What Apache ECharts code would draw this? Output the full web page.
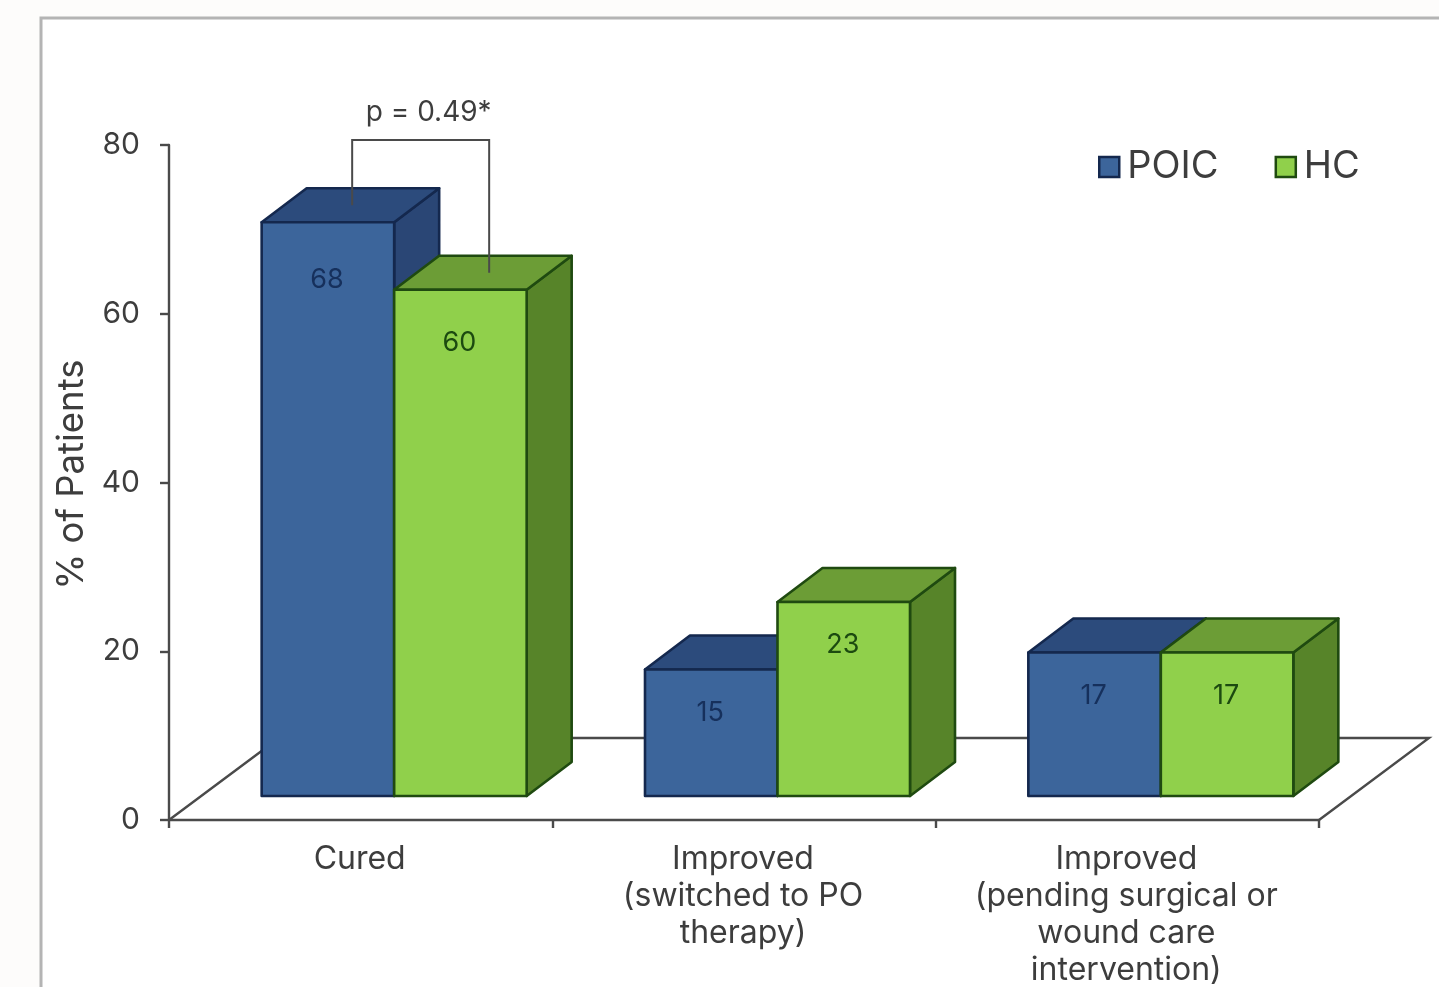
<!DOCTYPE html>
<html>
<head>
<meta charset="utf-8">
<style>html,body{margin:0;padding:0;background:#fdfcfb;overflow:hidden}#chart{width:1439px;height:987px}</style>
<script src="https://cdn.jsdelivr.net/npm/echarts@6/dist/echarts.min.js"></script>
</head>
<body>
<div id="chart"></div>
<script>
// Treatment outcome by patient group, drawn as pseudo-3D clustered columns.
const categories = ['Cured', 'Improved\n(switched to PO\ntherapy)', 'Improved\n(pending surgical or\nwound care\nintervention)'];
const poicValues = [68, 15, 17];
const hcValues = [60, 23, 17];
const yTicks = { min: 0, max: 80, step: 20 };
const pValueText = 'p = 0.49*';
const bracketTopValue = 80.6;

const FONT = 'Inter, sans-serif';
const TEXT = '#3d3d3d';
const BAR_W = 132.5, DEPTH_X = 45, DEPTH_Y = 34;     // column face width and oblique depth
const BASE_LIFT = 24, CLUSTER_SHIFT = 33.5;          // columns stand inside the floor plane
const FLOOR_X = 110, FLOOR_Y = 82;                   // oblique depth of the floor

const styles = {
  POIC: { front: '#3c659b', top: '#2c4b7c', side: '#2a4675', edge: '#14284e', label: '#16305c' },
  HC:   { front: '#90d04b', top: '#6c9d36', side: '#578429', edge: '#1f4a10', label: '#1c4a10' }
};

// Distance of a value label below the top edge of its column face.
function labelDrop(val) {
  if (val > 60) return 58;
  return val === 60 ? 53 : 43;
}

// One oblique box for a column; side 0 sits left of the cluster centre, side 1 right.
function columnRenderer(name, side) {
  const s = styles[name];
  return function (params, api) {
    const cat = api.value(0), val = api.value(1);
    const base = api.coord([cat, 0]);
    const head = api.coord([cat, val]);
    const xL = base[0] + CLUSTER_SHIFT + (side - 1) * BAR_W;
    const xR = xL + BAR_W;
    const yB = base[1] - BASE_LIFT;
    const yT = head[1] - BASE_LIFT;
    const lineStyle = { stroke: s.edge, lineWidth: 2.6, lineJoin: 'round' };
    const poly = (pts, fill) => ({
      type: 'polygon', shape: { points: pts },
      style: Object.assign({ fill }, lineStyle)
    });
    return {
      type: 'group',
      children: [
        poly([[xR, yT], [xR + DEPTH_X, yT - DEPTH_Y], [xR + DEPTH_X, yB - DEPTH_Y], [xR, yB]], s.side),
        poly([[xL, yT], [xL + DEPTH_X, yT - DEPTH_Y], [xR + DEPTH_X, yT - DEPTH_Y], [xR, yT]], s.top),
        poly([[xL, yT], [xR, yT], [xR, yB], [xL, yB]], s.front),
        {
          type: 'text',
          style: {
            text: String(val), x: (xL + xR) / 2 - 1, y: yT + labelDrop(val),
            align: 'center', verticalAlign: 'middle',
            font: '27px ' + FONT, fill: s.label
          }
        }
      ]
    };
  };
}

// Floor plane outline, spanning the whole category band.
function floorRenderer(params, api) {
  const band = api.size([1, 0])[0];
  const left = api.coord([0, 0])[0] - band / 2;
  const right = api.coord([categories.length - 1, 0])[0] + band / 2;
  const y = api.coord([0, 0])[1];
  return {
    type: 'polyline',
    shape: { points: [[left, y], [left + FLOOR_X, y - FLOOR_Y], [right + FLOOR_X, y - FLOOR_Y], [right, y]] },
    style: { fill: null, stroke: '#4a4a4a', lineWidth: 2.4 }
  };
}

// Significance bracket joining the two "Cured" columns, with its p-value caption.
function bracketRenderer(params, api) {
  const base = api.coord([0, 0]);
  const mid = base[0] + CLUSTER_SHIFT;
  const xA = mid - 42, xB = mid + 95;
  const yA = api.coord([0, poicValues[0]])[1] - BASE_LIFT - DEPTH_Y / 2;
  const yB = api.coord([0, hcValues[0]])[1] - BASE_LIFT - DEPTH_Y / 2;
  const yTop = api.coord([0, bracketTopValue])[1];
  return {
    type: 'group',
    children: [
      {
        type: 'polyline',
        shape: { points: [[xA, yA], [xA, yTop], [xB, yTop], [xB, yB]] },
        style: { fill: null, stroke: '#4a4a4a', lineWidth: 2 }
      },
      {
        type: 'text',
        style: {
          text: pValueText, x: (xA + xB) / 2 + 8, y: yTop - 27,
          align: 'center', verticalAlign: 'middle',
          font: '28px ' + FONT, fill: TEXT
        }
      }
    ]
  };
}

const chart = echarts.init(document.getElementById('chart'), null, { renderer: 'canvas' });
chart.setOption({
  animation: false,
  backgroundColor: 'transparent',
  graphic: [
    { type: 'rect', z: -10, shape: { x: 41, y: 18, width: 1500, height: 1100 },
      style: { fill: '#ffffff', stroke: '#b4b4b4', lineWidth: 3 } }
  ],
  legend: {
    left: 1098, top: 148, padding: 0, itemWidth: 20, itemHeight: 20, itemGap: 56,
    icon: 'rect',
    textStyle: { fontFamily: FONT, fontSize: 38, color: TEXT, padding: [0, 0, 0, 3] },
    data: [
      { name: 'POIC', itemStyle: { color: styles.POIC.front, borderColor: styles.POIC.edge, borderWidth: 2.5 } },
      { name: 'HC', itemStyle: { color: styles.HC.front, borderColor: styles.HC.edge, borderWidth: 2.5 } }
    ]
  },
  grid: { left: 169, right: 120, top: 145, bottom: 167, outerBoundsMode: 'none' },
  xAxis: {
    type: 'category',
    data: categories,
    axisLine: { lineStyle: { color: '#4a4a4a', width: 2.4 } },
    axisTick: { show: true, length: 8, lineStyle: { color: '#4a4a4a', width: 2.4 } },
    axisLabel: {
      interval: 0, margin: 21, fontFamily: FONT, fontSize: 32, lineHeight: 37,
      color: TEXT, padding: [0, 2, 0, 0], hideOverlap: false
    }
  },
  yAxis: {
    type: 'value',
    min: yTicks.min, max: yTicks.max, interval: yTicks.step,
    name: '% of Patients',
    nameLocation: 'middle',
    nameGap: 77,
    nameRotate: 90,
    nameTextStyle: { fontFamily: FONT, fontSize: 36.5, color: TEXT, padding: [0, 0, 0, 16] },
    splitLine: { show: false },
    axisLine: { show: true, lineStyle: { color: '#4a4a4a', width: 2.4 } },
    axisTick: { show: true, length: 9, lineStyle: { color: '#4a4a4a', width: 2.4 } },
    axisLabel: { margin: 29, fontFamily: FONT, fontSize: 30, color: TEXT }
  },
  series: [
    { type: 'custom', name: 'floor', z: 1, silent: true, renderItem: floorRenderer, data: [[0, 0]], encode: { x: 0, y: 1 } },
    { type: 'custom', name: 'POIC', z: 2, renderItem: columnRenderer('POIC', 0),
      itemStyle: { color: styles.POIC.front },
      data: poicValues.map((v, i) => [i, v]), encode: { x: 0, y: 1 } },
    { type: 'custom', name: 'HC', z: 3, renderItem: columnRenderer('HC', 1),
      itemStyle: { color: styles.HC.front },
      data: hcValues.map((v, i) => [i, v]), encode: { x: 0, y: 1 } },
    { type: 'custom', name: 'bracket', z: 4, silent: true, renderItem: bracketRenderer, data: [[0, 0]], encode: { x: 0, y: 1 } }
  ]
});
</script>
</body>
</html>
